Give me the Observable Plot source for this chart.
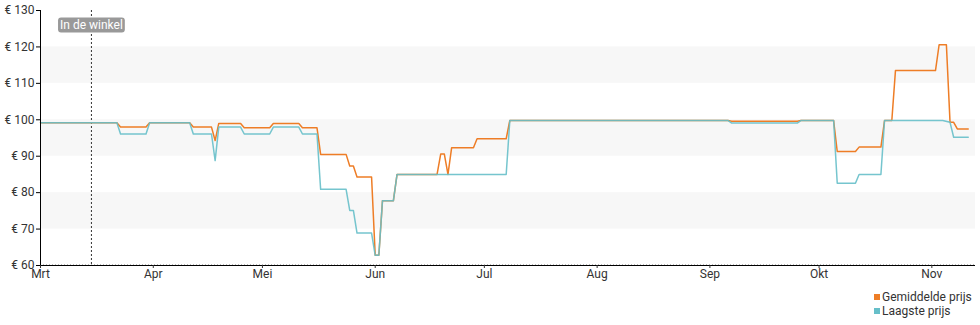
<!DOCTYPE html>
<html><head><meta charset="utf-8">
<script src="https://cdn.jsdelivr.net/npm/d3@7"></script>
<script src="https://cdn.jsdelivr.net/npm/@observablehq/plot@0.6"></script>
<style>
body{margin:0;background:#fff;font-family:Roboto,"Noto Sans",sans-serif;}
#legend{width:980px;margin-top:5px;font-size:12px;color:#333;}
#legend .row{height:14px;line-height:14px;display:flex;justify-content:flex-end;align-items:center;padding-right:8px;}
#legend .sw{display:inline-block;width:6px;height:6px;margin-right:2px;}
#legend .lab{display:inline-block;width:90px;}
</style>
</head><body>
<div id="chart"></div>
<div id="legend"></div>
<script>
const monthTicks = ["2023-03-01","2023-04-01","2023-05-01","2023-06-01","2023-07-01","2023-08-01","2023-09-01","2023-10-01","2023-11-01"];
const monthLabels = ["Mrt","Apr","Mei","Jun","Jul","Aug","Sep","Okt","Nov"];
const yTicks = [60,70,80,90,100,110,120,130];
const bandLow = [70,90,110];
const bandHigh = [80,100,120];
const domainStart = "2023-03-01";
const domainEnd = "2023-11-13";
const storeDate = "2023-03-15";
const storeLabel = "In de winkel";
const seriesNames = ["Gemiddelde prijs","Laagste prijs"];
const seriesColors = ["#ee7d26","#66bfc9"];

const avgDates = ["2023-03-01","2023-03-22","2023-03-23","2023-03-30","2023-03-31","2023-04-11","2023-04-12","2023-04-17","2023-04-18","2023-04-19","2023-04-25","2023-04-26","2023-05-03","2023-05-04","2023-05-11","2023-05-12","2023-05-16","2023-05-17","2023-05-24","2023-05-25","2023-05-26","2023-05-27","2023-05-31","2023-06-01","2023-06-02","2023-06-03","2023-06-06","2023-06-07","2023-06-18","2023-06-19","2023-06-20","2023-06-21","2023-06-22","2023-06-28","2023-06-29","2023-07-07","2023-07-08","2023-09-06","2023-09-07","2023-09-25","2023-09-26","2023-10-05","2023-10-06","2023-10-11","2023-10-12","2023-10-18","2023-10-19","2023-10-21","2023-10-22","2023-11-02","2023-11-03","2023-11-05","2023-11-06","2023-11-07","2023-11-08","2023-11-11"];
const avgPrices = [99.2,99.2,98,98,99.2,99.2,98,98,94.3,99,99,97.8,97.8,99,99,97.8,97.8,90.5,90.5,87.3,87.3,84.3,84.3,62.8,62.8,77.8,77.8,85,85,90.6,90.6,85,92.3,92.3,94.8,94.8,99.8,99.8,99.6,99.6,99.8,99.8,91.3,91.3,92.5,92.5,99.8,99.8,113.5,113.5,120.6,120.6,99.3,99.3,97.5,97.5];

const lowDates = ["2023-03-01","2023-03-22","2023-03-23","2023-03-30","2023-03-31","2023-04-11","2023-04-12","2023-04-17","2023-04-18","2023-04-19","2023-04-25","2023-04-26","2023-05-03","2023-05-04","2023-05-11","2023-05-12","2023-05-16","2023-05-17","2023-05-24","2023-05-25","2023-05-26","2023-05-27","2023-05-31","2023-06-01","2023-06-02","2023-06-03","2023-06-06","2023-06-07","2023-07-07","2023-07-08","2023-09-06","2023-09-07","2023-09-25","2023-09-26","2023-10-05","2023-10-06","2023-10-11","2023-10-12","2023-10-18","2023-10-19","2023-11-04","2023-11-06","2023-11-07","2023-11-11"];
const lowPrices = [99.2,99.2,96.1,96.1,99.2,99.2,96.1,96.1,88.8,98,98,96.1,96.1,98,98,96.1,96.1,80.9,80.9,75.1,75.1,68.9,68.9,62.8,62.8,77.8,77.8,85,85,99.8,99.8,99.1,99.1,99.8,99.8,82.6,82.6,85,85,99.8,99.8,99.3,95.2,95.2];

const P = d3.utcParse("%Y-%m-%d");
const avg = avgDates.map((d,i)=>({date:P(d),price:avgPrices[i]}));
const low = lowDates.map((d,i)=>({date:P(d),price:lowPrices[i]}));
const bands = bandLow.map((v,i)=>({y1:v,y2:bandHigh[i]}));
const ticks = monthTicks.map(P);
const x0 = P(domainStart), x1 = P(domainEnd);

const plot = Plot.plot({
  width: 980, height: 285,
  marginLeft: 40, marginRight: 5, marginTop: 10, marginBottom: 20,
  style: {fontFamily: "Roboto, sans-serif", fontSize: "12px", color: "#333", background: "#fff", overflow: "visible"},
  x: {type: "utc", domain: [x0, x1]},
  y: {domain: [60, 130]},
  marks: [
    Plot.rect(bands, {x1: () => x0, x2: () => x1, y1: "y1", y2: "y2", fill: "#f7f7f7"}),
    Plot.ruleY([60], {stroke: "#bbb", strokeDasharray: "1,2", dy: -1}),
    Plot.ruleX([P(storeDate)], {stroke: "#333", strokeDasharray: "2,2", strokeWidth: 1}),
    Plot.line(avg, {x: "date", y: "price", stroke: seriesColors[0], strokeWidth: 1.5}),
    Plot.line(low, {x: "date", y: "price", stroke: seriesColors[1], strokeWidth: 1.5, strokeOpacity: 0.9}),
    Plot.ruleY([60], {stroke: "#000", strokeWidth: 1}),
    Plot.ruleX([x0], {stroke: "#000", strokeWidth: 1}),
    Plot.axisY({ticks: yTicks, tickFormat: d => "€ " + d, tickSize: 4, tickPadding: 2, stroke: "#000", fill: "#333", label: null}),
    Plot.axisX({ticks: ticks, tickFormat: (d,i) => monthLabels[i], tickSize: 3, tickPadding: 1, label: null, fill: "#333"}),
    Plot.text([storeLabel], {x: () => P(storeDate), text: d => d, frameAnchor: "top", dy: 10, fill: "#fff", fontSize: 12, className: "storelabel"})
  ]
});
document.getElementById("chart").appendChild(plot);

// rounded grey box behind the "In de winkel" label
plot.querySelectorAll(".storelabel text").forEach(t => {
  const b = t.getBBox();
  const r = document.createElementNS("http://www.w3.org/2000/svg","rect");
  r.setAttribute("x", b.x - 2); r.setAttribute("y", b.y - 0.5);
  r.setAttribute("width", b.width + 4); r.setAttribute("height", b.height + 1);
  r.setAttribute("rx", 3); r.setAttribute("fill", "#999");
  const tr = t.getAttribute("transform");
  if (tr) r.setAttribute("transform", tr);
  t.parentNode.insertBefore(r, t);
});

const lg = document.getElementById("legend");
seriesNames.forEach((n,i)=>{
  const row = document.createElement("div"); row.className = "row";
  row.innerHTML = `<span class="sw" style="background:${seriesColors[i]}"></span><span class="lab">${n}</span>`;
  lg.appendChild(row);
});
</script>
</body></html>
